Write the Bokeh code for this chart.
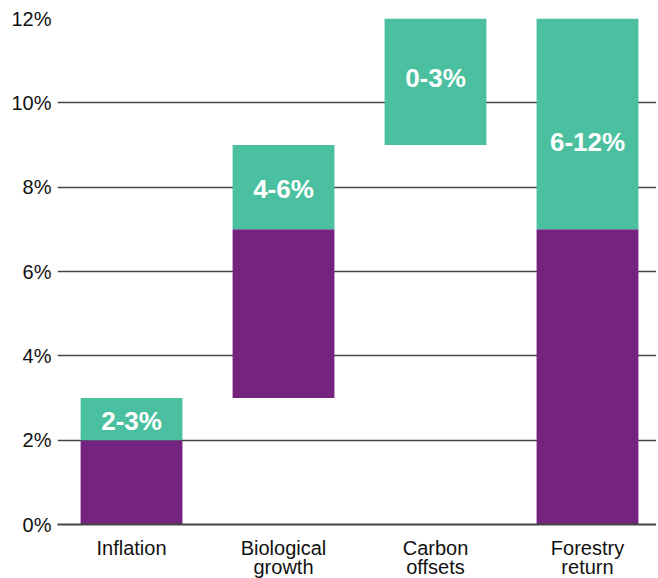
from bokeh.plotting import figure
from bokeh.models import Range1d, FixedTicker, ColumnDataSource
from bokeh.embed import file_html
from bokeh.resources import INLINE
from bokeh.core.properties import value

categories = ["Inflation", "Biological\ngrowth", "Carbon\noffsets", "Forestry\nreturn"]
base_bottom = [0, 3, 0, 0]
base_top = [2, 7, 0, 7]
range_bottom = [2, 7, 9, 7]
range_top = [3, 9, 12, 12]
range_labels = ["2-3%", "4-6%", "0-3%", "6-12%"]
label_y = [2.45, 7.95, 10.6, 9.07]
y_ticks = [0, 2, 4, 6, 8, 10, 12]

PURPLE = "#74237e"
GREEN = "#4bc0a0"

xs = list(range(len(categories)))

p = figure(width=656, height=585, output_backend="svg", toolbar_location=None,
           x_range=Range1d(-0.487, 3.454), y_range=Range1d(0, 12),
           min_border_left=57, min_border_right=0, min_border_top=18, min_border_bottom=61)
p.outline_line_color = None

keep = [t > b for t, b in zip(base_top, base_bottom)]
src_base = ColumnDataSource(dict(x=[x for x, k in zip(xs, keep) if k],
                                 top=[t for t, k in zip(base_top, keep) if k],
                                 bottom=[b for b, k in zip(base_bottom, keep) if k]))
src_range = ColumnDataSource(dict(x=xs, top=range_top, bottom=range_bottom))
src_lab = ColumnDataSource(dict(x=xs, y=label_y, t=range_labels))

p.vbar(x="x", top="top", bottom="bottom", width=0.67, source=src_base,
       fill_color=PURPLE, line_color=None)
p.vbar(x="x", top="top", bottom="bottom", width=0.67, source=src_range,
       fill_color=GREEN, line_color=None)
p.text(x="x", y="y", text="t", source=src_lab, text_color="white",
       text_font=value("Liberation Sans"), text_font_style="bold",
       text_font_size="26px", text_align="center", text_baseline="middle")

# grid
p.xgrid.grid_line_color = None
p.ygrid.ticker = FixedTicker(ticks=y_ticks)
p.ygrid.grid_line_color = "#444444"
p.ygrid.grid_line_width = 1.5

# y axis
p.yaxis.ticker = FixedTicker(ticks=y_ticks)
p.yaxis.major_label_overrides = {t: f"{t}%" for t in y_ticks}
p.yaxis.axis_line_color = None
p.yaxis.major_tick_line_color = None
p.yaxis.minor_tick_line_color = None
p.yaxis.major_label_text_font = "Liberation Sans"
p.yaxis.major_label_text_font_size = "20px"
p.yaxis.major_label_text_color = "#111111"
p.yaxis.major_label_standoff = 0

# x axis
p.xaxis.ticker = FixedTicker(ticks=xs)
p.xaxis.major_label_overrides = {i: c for i, c in enumerate(categories)}
p.xaxis.axis_line_color = "#444444"
p.xaxis.axis_line_width = 2.2
p.xaxis.major_tick_line_color = None
p.xaxis.minor_tick_line_color = None
p.xaxis.major_label_text_font = "Liberation Sans"
p.xaxis.major_label_text_font_size = "20px"
p.xaxis.major_label_text_color = "#111111"
p.xaxis.major_label_standoff = 6
p.xaxis.major_label_text_line_height = 0.9

open("out.html", "w").write(file_html(p, INLINE))
